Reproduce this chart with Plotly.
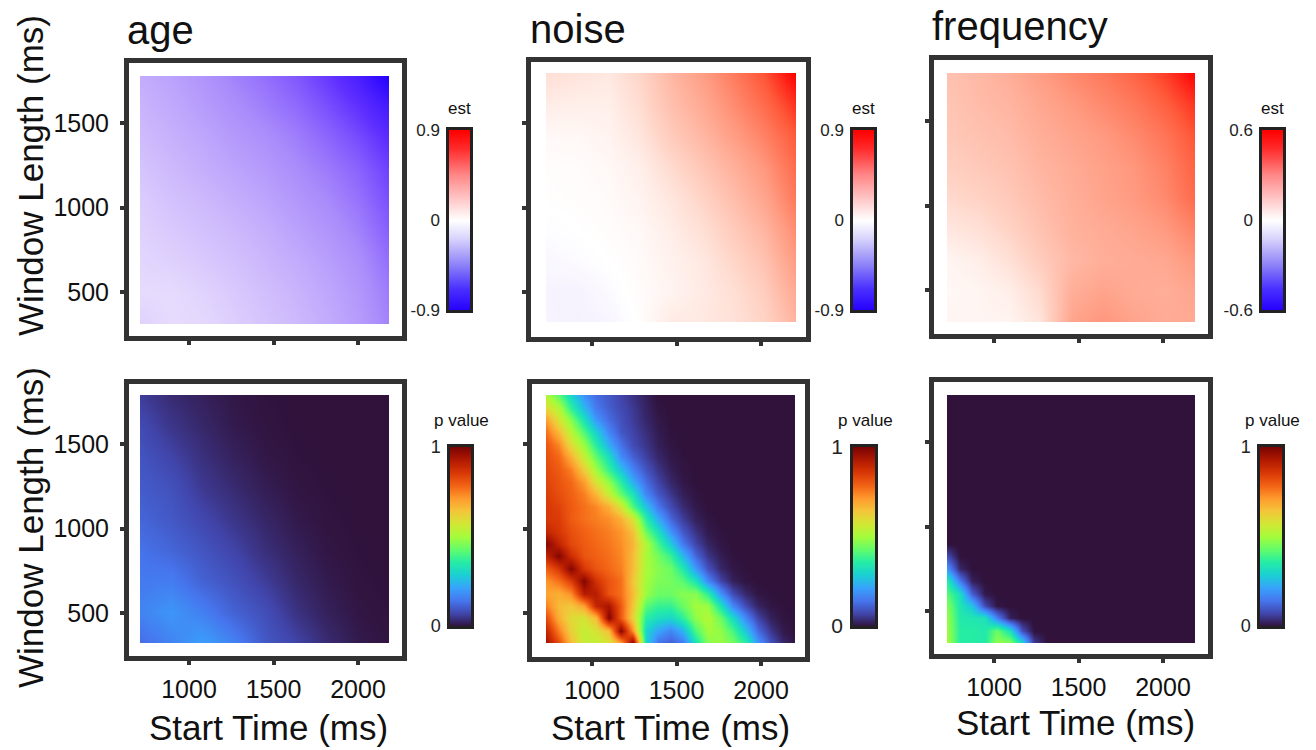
import plotly.graph_objects as go

W, H = 1316, 750

# ---------- data ----------
START_COARSE = [710, 894, 1079, 1263, 1448, 1632, 1816, 2001, 2185]
WINDOW_COARSE = [1778, 1595, 1411, 1228, 1044, 861, 677, 494, 310]
START_FINE = [710, 784, 858, 931, 1005, 1079, 1153, 1226, 1300, 1374, 1448,
              1521, 1595, 1669, 1743, 1816, 1890, 1964, 2038, 2111, 2185]
WINDOW_FINE = [1778, 1705, 1631, 1558, 1484, 1411, 1338, 1264, 1191, 1117, 1044,
               971, 897, 824, 750, 677, 604, 530, 457, 383, 310]
X_TICKS = [1000, 1500, 2000]
Y_TICKS = [500, 1000, 1500]

AGE_EST = [
    [-.32, -.36, -.41, -.47, -.52, -.58, -.66, -.76, -.90],
    [-.29, -.33, -.38, -.43, -.48, -.53, -.60, -.68, -.78],
    [-.26, -.30, -.34, -.39, -.43, -.48, -.54, -.61, -.70],
    [-.23, -.27, -.31, -.35, -.39, -.44, -.49, -.55, -.64],
    [-.20, -.24, -.27, -.31, -.35, -.40, -.45, -.51, -.60],
    [-.18, -.21, -.24, -.27, -.31, -.36, -.41, -.47, -.56],
    [-.16, -.18, -.21, -.24, -.28, -.32, -.37, -.43, -.52],
    [-.14, -.14, -.17, -.21, -.25, -.29, -.34, -.40, -.49],
    [-.18, -.14, -.15, -.19, -.23, -.27, -.32, -.38, -.47],
]
NOISE_EST = [
    [.14, .12, .10, .18, .32, .43, .56, .70, .90],
    [.08, .07, .07, .15, .28, .38, .50, .62, .78],
    [.03, .03, .05, .11, .23, .32, .43, .54, .68],
    [.01, .015, .03, .07, .16, .25, .35, .46, .62],
    [.005, .01, .02, .05, .11, .19, .29, .40, .57],
    [-.01, 0, .012, .03, .08, .14, .23, .33, .50],
    [-.03, -.015, 0, .02, .06, .10, .18, .27, .44],
    [-.045, -.05, -.02, .015, .05, .09, .14, .22, .38],
    [-.04, -.055, -.04, .005, .09, .10, .13, .19, .33],
]
FREQ_EST = [
    [.18, .21, .24, .29, .34, .38, .43, .50, .60],
    [.17, .20, .22, .26, .30, .34, .38, .44, .52],
    [.16, .18, .20, .24, .27, .30, .34, .39, .47],
    [.14, .16, .18, .22, .25, .28, .31, .36, .44],
    [.11, .13, .16, .20, .24, .27, .30, .34, .42],
    [.07, .09, .13, .18, .23, .25, .27, .30, .36],
    [.03, .05, .09, .15, .21, .24, .25, .26, .31],
    [.02, .03, .05, .11, .24, .27, .25, .24, .27],
    [.03, .03, .03, .08, .27, .31, .27, .25, .25],
]
AGE_P = [
    [.06, .035, .02, .008, .002, 0, 0, 0, 0],
    [.08, .05, .03, .012, .004, 0, 0, 0, 0],
    [.095, .07, .042, .022, .008, .002, 0, 0, 0],
    [.105, .09, .055, .035, .016, .005, .001, 0, 0],
    [.12, .10, .075, .05, .028, .011, .003, 0, 0],
    [.14, .12, .095, .07, .04, .02, .006, .001, 0],
    [.15, .155, .115, .09, .06, .03, .012, .003, 0],
    [.165, .195, .16, .115, .085, .045, .02, .006, .001],
    [.13, .165, .21, .165, .10, .07, .035, .012, .003],
]
NOISE_P = [
    [.52, .42, .30, .19, .13, .10, .07, .045, .02],
    [.60, .52, .37, .25, .15, .11, .08, .055, .025, .005],
    [.71, .58, .47, .33, .20, .13, .09, .06, .03, .01],
    [.77, .66, .53, .41, .29, .17, .10, .07, .04, .015, .002],
    [.81, .74, .60, .49, .36, .23, .14, .08, .05, .02, .005],
    [.82, .78, .68, .55, .43, .32, .18, .115, .065, .03, .01, .002],
    [.83, .80, .75, .63, .50, .38, .27, .165, .095, .05, .018, .004],
    [.84, .81, .78, .71, .58, .48, .36, .23, .13, .07, .03, .008],
    [.85, .82, .79, .75, .67, .55, .43, .33, .17, .10, .05, .018, .004],
    [.86, .84, .80, .77, .74, .68, .58, .41, .27, .15, .08, .035, .01],
    [.86, .85, .80, .77, .75, .73, .68, .58, .36, .23, .12, .06, .02, .005],
    [.90, .86, .82, .79, .77, .75, .72, .65, .44, .33, .19, .10, .045, .012, .002],
    [.99, .90, .83, .80, .78, .76, .73, .67, .52, .40, .28, .15, .07, .025, .006],
    [.90, .99, .88, .81, .79, .77, .74, .66, .51, .45, .38, .25, .12, .05, .015, .002],
    [.79, .86, .99, .86, .81, .78, .75, .66, .51, .47, .44, .35, .20, .09, .03, .008, .001],
    [.72, .77, .85, .99, .87, .81, .77, .64, .50, .46, .45, .42, .33, .17, .07, .02, .004],
    [.70, .68, .73, .92, .92, .81, .77, .66, .49, .44, .44, .47, .47, .37, .19, .08, .03, .006, .001],
    [.75, .66, .64, .70, .90, .94, .80, .64, .42, .38, .38, .44, .50, .49, .33, .17, .08, .025, .006, .001],
    [.83, .68, .60, .58, .66, .99, .80, .62, .36, .32, .30, .37, .48, .52, .44, .31, .17, .07, .02, .004],
    [.90, .75, .62, .55, .58, .66, .99, .72, .30, .22, .17, .24, .41, .50, .48, .40, .27, .13, .05, .012],
    [.95, .82, .66, .55, .55, .58, .70, 1, .30, .14, .11, .15, .33, .47, .49, .45, .36, .20, .09, .03, .004],
]
FREQ_P = [
    [0], [0], [0], [0], [0], [0], [0], [0], [0], [0], [0], [0], [0],
    [.08],
    [.20, .03],
    [.36, .15, .02],
    [.42, .32, .11, .01],
    [.47, .34, .27, .08, .005],
    [.49, .35, .34, .33, .16, .02],
    [.50, .36, .36, .35, .44, .33, .09, .002],
    [.51, .36, .36, .35, .48, .47, .31, .06],
]
EST_LEVELS = [-1, 0, 1]
P_LEVELS = [0, 1]

EST_SCALE = [
    [0.0, "#2200ff"], [0.12, "#5f2fff"], [0.25, "#a98afb"], [0.40, "#dfd1fd"], [0.5, "#ffffff"],
    [0.60, "#ffd6c9"], [0.75, "#ff9a80"], [0.88, "#ff5a3a"], [1.0, "#ff0000"],
]
EST_BAR_SCALE = [
    [0.0, "#2600ff"], [0.12, "#4a30ff"], [0.25, "#8c80f8"], [0.40, "#d8d4fc"], [0.5, "#ffffff"],
    [0.60, "#ffd0d0"], [0.75, "#ff8888"], [0.90, "#ff2a2a"], [1.0, "#ff0000"],
]


def fill(rows, n=21):
    return [list(r) + [0] * (n - len(r)) for r in rows]


# panel geometry: frame outer box, heat box, tick positions, bar box (all read in pixels)
PANELS = [
    dict(name="age", z=AGE_EST, x=START_COARSE, y=WINDOW_COARSE, kind="est", lim=.9, frame=(124, 58, 407, 341),
         heat=(140, 76, 389, 324), tx=189, ty=123, bar=(449, 130, 470, 310), title=(125, 54), lab=17),
    dict(name="noise", z=NOISE_EST, x=START_COARSE, y=WINDOW_COARSE, kind="est", lim=.9, frame=(526, 57, 811, 342),
         heat=(546, 73, 796, 322), tx=592, ty=123, bar=(853, 130, 874, 310), title=(528, 53), lab=17),
    dict(name="frequency", z=FREQ_EST, x=START_COARSE, y=WINDOW_COARSE, kind="est", lim=.6, frame=(929, 55, 1213, 339),
         heat=(947, 73, 1195, 322), tx=994, ty=121, bar=(1262, 130, 1283, 310), title=(930, 50), lab=17),
    dict(name="", z=AGE_P, x=START_COARSE, y=WINDOW_COARSE, kind="p", lim=1, frame=(124, 379, 407, 661),
         heat=(140, 395, 389, 643), tx=189, ty=444, bar=(450, 447, 471, 626), lab=18),
    dict(name="", z=fill(NOISE_P), x=START_FINE, y=WINDOW_FINE, kind="p", lim=1, frame=(527, 379, 810, 662),
         heat=(546, 395, 795, 643), tx=592, ty=444, bar=(853, 447, 875, 626), lab=21),
    dict(name="", z=fill(FREQ_P), x=START_FINE, y=WINDOW_FINE, kind="p", lim=1, frame=(929, 377, 1213, 659),
         heat=(947, 395, 1195, 643), tx=994, ty=442, bar=(1260, 447, 1282, 626), lab=18),
]
SCALE = 0.169  # pixels per millisecond
LINE = 5
FONT = "Liberation Sans"


def fx(px):
    return px / W


def fy(px):
    return 1 - px / H


fig = go.Figure()
layout = {}
shapes = []
annotations = []


def note(text, x, y, size, anchor="center", angle=0, valign="middle"):
    annotations.append(dict(text=text, x=fx(x), y=fy(y), xref="paper", yref="paper", showarrow=False,
                            xanchor=anchor, yanchor=valign, textangle=angle,
                            font=dict(family=FONT, size=size, color="#111111")))


for i, p in enumerate(PANELS):
    n = 2 * i + 1
    L, T, R, B = p["frame"]
    l, t, r, b = L + LINE, T + LINE, R - LINE, B - LINE
    hl, ht, hr, hb = p["heat"]
    xmin = 1000 + (l - p["tx"]) / SCALE
    xmax = 1000 + (r - p["tx"]) / SCALE
    ymax = 1500 + (p["ty"] - t) / SCALE
    ymin = 1500 + (p["ty"] - b) / SCALE
    dx_shift = 1000 + (hl - p["tx"]) / SCALE - p["x"][0]
    dy_shift = 1500 + (p["ty"] - hb) / SCALE - p["y"][-1]
    scale = EST_SCALE if p["kind"] == "est" else "Turbo"
    bar_scale = EST_BAR_SCALE if p["kind"] == "est" else "Turbo"
    zmin = -p["lim"] if p["kind"] == "est" else 0
    fig.add_trace(go.Heatmap(
        x=[v + dx_shift for v in p["x"]],
        y=[v + dy_shift for v in p["y"][::-1]],
        z=p["z"][::-1], zmin=zmin, zmax=p["lim"], colorscale=scale, zsmooth="best",
        showscale=False, xaxis=f"x{n}", yaxis=f"y{n}", hoverinfo="skip"))
    common = dict(showgrid=False, zeroline=False, showline=True, mirror=True, linewidth=LINE, linecolor="#333333",
                  ticks="outside", ticklen=4, tickwidth=4, tickcolor="#333333",
                  tickfont=dict(family=FONT, size=25, color="#111111"))
    layout[f"xaxis{n}"] = dict(common, domain=[fx(l), fx(r)], range=[xmin, xmax], anchor=f"y{n}",
                               tickvals=X_TICKS, showticklabels=i >= 3, ticklabelstandoff=3)
    layout[f"yaxis{n}"] = dict(common, domain=[fy(b), fy(t)], range=[ymin, ymax], anchor=f"x{n}",
                               tickvals=Y_TICKS, showticklabels=i % 3 == 0, ticklabelstandoff=6)
    # trims the flat half cells that a smoothed heatmap adds round its outer cell centres
    shapes.append(dict(type="path", xref="paper", yref="paper", fillcolor="white", line=dict(width=0), layer="above",
                       path=(f"M{fx(l)},{fy(t)} H{fx(r)} V{fy(b)} H{fx(l)} Z "
                             f"M{fx(hl)},{fy(ht)} H{fx(hr)} V{fy(hb)} H{fx(hl)} Z")))
    # colour bar on its own axes
    bl, bt, br, bb = p["bar"]
    levels = [v * p["lim"] for v in EST_LEVELS] if p["kind"] == "est" else P_LEVELS
    fig.add_trace(go.Heatmap(x=[0, 1], y=levels, z=[[v, v] for v in levels], zmin=zmin, zmax=p["lim"],
                             colorscale=bar_scale, zsmooth="best", showscale=False,
                             xaxis=f"x{n + 12}", yaxis=f"y{n + 12}", hoverinfo="skip"))
    layout[f"xaxis{n + 12}"] = dict(domain=[fx(bl), fx(br)], range=[0, 1], anchor=f"y{n + 12}", showgrid=False,
                                    zeroline=False, showline=True, mirror=True, linewidth=2.5, linecolor="#222222",
                                    ticks="", showticklabels=False)
    tickv = [zmin, 0, p["lim"]] if p["kind"] == "est" else [0, 1]
    tickt = [f"{v:g}" for v in tickv]
    layout[f"yaxis{n + 12}"] = dict(domain=[fy(bb), fy(bt)], range=[zmin, p["lim"]], anchor=f"x{n + 12}",
                                    showgrid=False, zeroline=False, showline=True, mirror=True, linewidth=2.5,
                                    linecolor="#222222", ticks="", tickvals=tickv, ticktext=tickt,
                                    ticklabelstandoff=3, tickfont=dict(family=FONT, size=p["lab"], color="#222222"))
    cx = (bl + br) / 2
    if p["kind"] == "est":
        note("est", cx, bt - 21, 17)
    else:
        note("p value", cx + 1, bt - 27, 17)
    if p["name"]:
        note(p["name"], p["title"][0], p["title"][1], 40, anchor="left", valign="bottom")

note("Window Length (ms)", 30, 176, 35, angle=-90)
note("Window Length (ms)", 30, 528, 35, angle=-90)
note("Start Time (ms)", 268, 727, 35)
note("Start Time (ms)", 670, 727, 35)
note("Start Time (ms)", 1075, 722, 35)

fig.update_layout(width=W, height=H, margin=dict(l=0, r=0, t=0, b=0, autoexpand=False), paper_bgcolor="white",
                  plot_bgcolor="white", autosize=False, showlegend=False, shapes=shapes, annotations=annotations,
                  **layout)
fig.write_html("out.html", config=dict(displayModeBar=False),
               post_script="document.body.style.margin='0';document.body.style.overflow='hidden';")
